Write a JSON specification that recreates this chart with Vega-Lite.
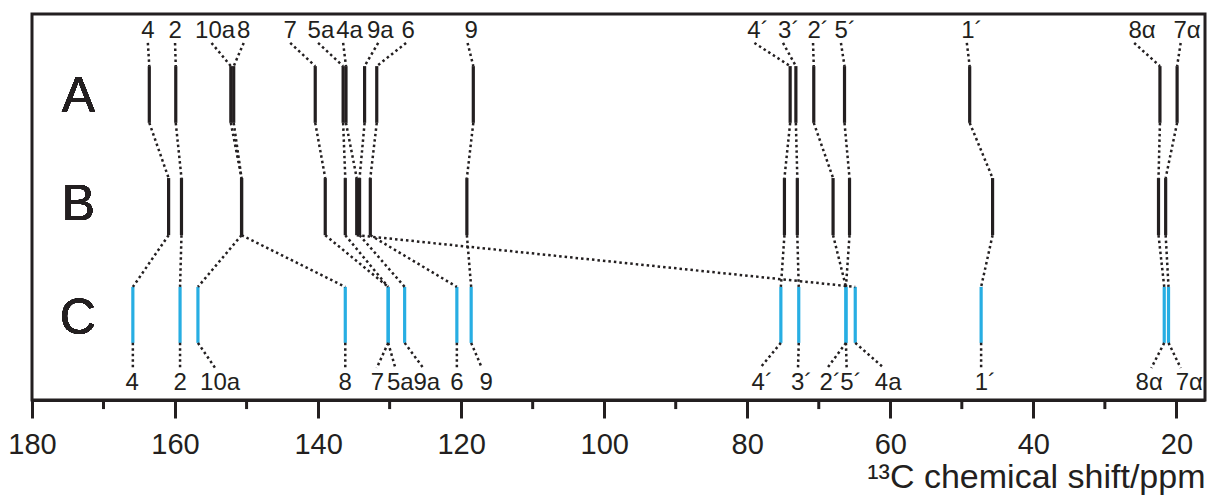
{
  "$schema": "https://vega.github.io/schema/vega-lite/v6.json",
  "width": 1173,
  "height": 386,
  "autosize": {"type": "none"},
  "padding": {"left": 32, "top": 14, "right": 3, "bottom": 99},
  "background": "white",
  "config": {
    "view": {"stroke": "#231f20", "strokeWidth": 3},
    "font": "Liberation Sans",
    "text": {"font": "Liberation Sans", "color": "#231f20"}
  },
  "datasets": {
    "carbons": [
      {"lab": "4", "pa": 163.6, "pb": 160.9, "pc": 165.9, "tt": 163.8, "ta": 163.8, "bt": 166.0, "ba": 165.9},
      {"lab": "2", "pa": 159.9, "pb": 159.1, "pc": 159.3, "tt": 160.0, "ta": 160.0, "bt": 159.3, "ba": 159.3},
      {"lab": "10a", "pa": 152.2, "pb": 150.7, "pc": 156.8, "tt": 154.4, "ta": 154.9, "bt": 153.7, "ba": 154.4},
      {"lab": "8", "pa": 151.8, "pb": 150.7, "pc": 136.2, "tt": 150.4, "ta": 150.4, "bt": 136.2, "ba": 136.2},
      {"lab": "7", "pa": 140.4, "pb": 139.0, "pc": 130.2, "tt": 143.9, "ta": 143.9, "bt": 131.7, "ba": 131.8},
      {"lab": "5a", "pa": 136.5, "pb": 136.2, "pc": 130.2, "tt": 139.6, "ta": 140.0, "bt": 128.5, "ba": 129.2},
      {"lab": "4a", "pa": 136.1, "pb": 134.6, "pc": 64.9, "tt": 135.6, "ta": 136.5, "bt": 60.3, "ba": 60.9},
      {"lab": "9a", "pa": 133.5, "pb": 134.2, "pc": 127.9, "tt": 131.3, "ta": 131.6, "bt": 124.8, "ba": 125.3},
      {"lab": "6", "pa": 131.8, "pb": 132.7, "pc": 120.6, "tt": 127.4, "ta": 127.7, "bt": 120.6, "ba": 120.6},
      {"lab": "9", "pa": 118.3, "pb": 119.2, "pc": 118.6, "tt": 118.6, "ta": 119.1, "bt": 116.5, "ba": 117.1},
      {"lab": "4´", "pa": 74.0, "pb": 74.8, "pc": 75.3, "tt": 78.5, "ta": 79.0, "bt": 77.9, "ba": 78.2},
      {"lab": "3´", "pa": 73.2, "pb": 73.0, "pc": 72.8, "tt": 74.2, "ta": 75.0, "bt": 72.4, "ba": 72.9},
      {"lab": "2´", "pa": 70.7, "pb": 68.0, "pc": 66.2, "tt": 70.1, "ta": 70.8, "bt": 68.4, "ba": 68.8},
      {"lab": "5´", "pa": 66.4, "pb": 65.7, "pc": 66.2, "tt": 66.3, "ta": 66.9, "bt": 65.5, "ba": 66.1},
      {"lab": "1´", "pa": 48.9, "pb": 45.7, "pc": 47.3, "tt": 48.6, "ta": 49.3, "bt": 46.7, "ba": 47.3},
      {"lab": "8α", "pa": 22.3, "pb": 22.5, "pc": 21.7, "tt": 24.8, "ta": 25.9, "bt": 23.8, "ba": 23.5},
      {"lab": "7α", "pa": 19.9, "pb": 21.5, "pc": 21.1, "tt": 18.5, "ta": 19.4, "bt": 18.2, "ba": 19.4}
    ],
    "minor": [{"v": 170}, {"v": 150}, {"v": 130}, {"v": 110}, {"v": 90}, {"v": 70}, {"v": 50}, {"v": 30}]
  },
  "data": {"name": "carbons"},
  "layer": [
    {
      "mark": {"type": "rule", "color": "#231f20", "strokeWidth": 3.2},
      "encoding": {
        "x": {
          "field": "pa", "type": "quantitative",
          "scale": {"domain": [180, 16], "nice": false, "zero": false},
          "axis": {
            "title": "¹³C chemical shift/ppm",
            "values": [180, 160, 140, 120, 100, 80, 60, 40, 20],
            "grid": false,
            "tickSize": 18, "tickWidth": 3, "tickColor": "#231f20",
            "domainWidth": 3, "domainColor": "#231f20",
            "labelFont": "Liberation Sans", "labelFontSize": 29, "labelColor": "#231f20",
            "labelPadding": 12, "labelFlush": false, "labelOverlap": false,
            "titleFont": "Liberation Sans", "titleFontSize": 34, "titleFontWeight": "normal", "titleColor": "#231f20",
            "titleAnchor": "end", "titleAlign": "right", "titlePadding": 1
          }
        },
        "y": {"datum": 86.5, "type": "quantitative", "scale": {"domain": [0, 100], "nice": false, "zero": false}, "axis": null},
        "y2": {"datum": 71.8}
      }
    },
    {
      "mark": {"type": "rule", "color": "#231f20", "strokeWidth": 3.2},
      "encoding": {
        "x": {"field": "pb", "type": "quantitative"},
        "y": {"datum": 57.5, "type": "quantitative"},
        "y2": {"datum": 42.7}
      }
    },
    {
      "mark": {"type": "rule", "color": "#27aee3", "strokeWidth": 3.2},
      "encoding": {
        "x": {"field": "pc", "type": "quantitative"},
        "y": {"datum": 29.3, "type": "quantitative"},
        "y2": {"datum": 14.8}
      }
    },
    {
      "mark": {"type": "rule", "color": "#231f20", "strokeWidth": 2.5, "strokeDash": [2.5, 3], "strokeCap": "butt"},
      "encoding": {
        "x": {"field": "ta", "type": "quantitative"},
        "x2": {"field": "pa"},
        "y": {"datum": 92.5, "type": "quantitative"},
        "y2": {"datum": 86.5}
      }
    },
    {
      "mark": {"type": "rule", "color": "#231f20", "strokeWidth": 2.5, "strokeDash": [2.5, 3], "strokeCap": "butt"},
      "encoding": {
        "x": {"field": "pa", "type": "quantitative"},
        "x2": {"field": "pb"},
        "y": {"datum": 71.8, "type": "quantitative"},
        "y2": {"datum": 57.5}
      }
    },
    {
      "mark": {"type": "rule", "color": "#231f20", "strokeWidth": 2.5, "strokeDash": [2.5, 3], "strokeCap": "butt"},
      "encoding": {
        "x": {"field": "pb", "type": "quantitative"},
        "x2": {"field": "pc"},
        "y": {"datum": 42.7, "type": "quantitative"},
        "y2": {"datum": 29.3}
      }
    },
    {
      "mark": {"type": "rule", "color": "#231f20", "strokeWidth": 2.5, "strokeDash": [2.5, 3], "strokeCap": "butt"},
      "encoding": {
        "x": {"field": "pc", "type": "quantitative"},
        "x2": {"field": "ba"},
        "y": {"datum": 14.8, "type": "quantitative"},
        "y2": {"datum": 8.3}
      }
    },
    {
      "mark": {"type": "text", "fontSize": 24, "align": "center", "baseline": "alphabetic"},
      "encoding": {
        "x": {"field": "tt", "type": "quantitative"},
        "y": {"datum": 93.8, "type": "quantitative"},
        "text": {"field": "lab"}
      }
    },
    {
      "mark": {"type": "text", "fontSize": 24, "align": "center", "baseline": "alphabetic"},
      "encoding": {
        "x": {"field": "bt", "type": "quantitative"},
        "y": {"datum": 2.6, "type": "quantitative"},
        "text": {"field": "lab"}
      }
    },
    {
      "mark": {"type": "text", "fontSize": 50, "align": "center", "baseline": "alphabetic", "text": "A"},
      "encoding": {
        "x": {"datum": 173.5, "type": "quantitative"},
        "y": {"datum": 74.6, "type": "quantitative"}
      }
    },
    {
      "mark": {"type": "text", "fontSize": 50, "align": "center", "baseline": "alphabetic", "text": "B"},
      "encoding": {
        "x": {"datum": 173.5, "type": "quantitative"},
        "y": {"datum": 46.6, "type": "quantitative"}
      }
    },
    {
      "mark": {"type": "text", "fontSize": 50, "align": "center", "baseline": "alphabetic", "text": "C"},
      "encoding": {
        "x": {"datum": 173.6, "type": "quantitative"},
        "y": {"datum": 17.1, "type": "quantitative"}
      }
    },
    {
      "data": {"name": "minor"},
      "mark": {"type": "rule", "color": "#231f20", "strokeWidth": 3},
      "encoding": {
        "x": {"field": "v", "type": "quantitative"},
        "y": {"datum": 0, "type": "quantitative"},
        "y2": {"datum": -2.35}
      }
    }
  ]
}
